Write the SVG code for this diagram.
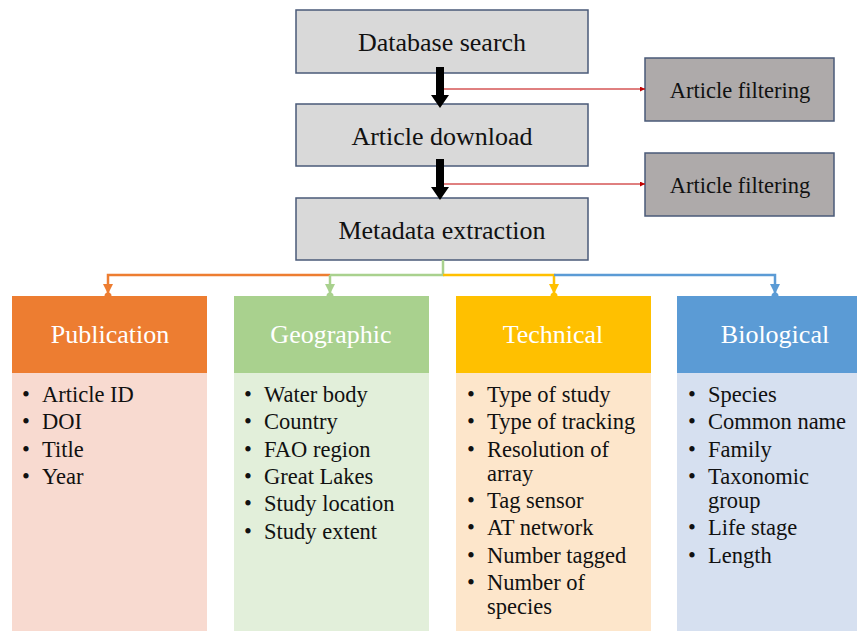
<svg xmlns="http://www.w3.org/2000/svg" width="857" height="631" viewBox="0 0 857 631">
<defs>
<style>
.step{fill:#D9D9D9;stroke:#4A5A78;stroke-width:1.5}
.filt{fill:#AEAAAA;stroke:#4A5A78;stroke-width:1.5}
.t{font-family:"Liberation Serif","Times New Roman",serif;fill:#111}
.big{font-size:26px;text-anchor:middle}
.mid{font-size:22.5px;text-anchor:middle}
.hd{font-family:"Liberation Serif","Times New Roman",serif;font-size:26px;fill:#fff;text-anchor:middle}
.li{font-size:22.5px}
</style>
<marker id="ar" viewBox="0 0 10 10" refX="10" refY="5" markerWidth="5" markerHeight="5" orient="auto"><path d="M0,0L10,5L0,10z" fill="#C00000"/></marker>
<marker id="ao" viewBox="0 0 10 10" refX="10" refY="5" markerWidth="4" markerHeight="4" orient="auto"><path d="M0,0L10,5L0,10z" fill="#ED7D31"/></marker>
<marker id="ag" viewBox="0 0 10 10" refX="10" refY="5" markerWidth="4" markerHeight="4" orient="auto"><path d="M0,0L10,5L0,10z" fill="#A9D18E"/></marker>
<marker id="ay" viewBox="0 0 10 10" refX="10" refY="5" markerWidth="4" markerHeight="4" orient="auto"><path d="M0,0L10,5L0,10z" fill="#FFC000"/></marker>
<marker id="ab" viewBox="0 0 10 10" refX="10" refY="5" markerWidth="4" markerHeight="4" orient="auto"><path d="M0,0L10,5L0,10z" fill="#5B9BD5"/></marker>
</defs>
<rect width="857" height="631" fill="#fff"/>

<g id="nodes-top">
<g id="db"><rect class="step" x="296" y="10" width="292" height="63"/><text class="t big" x="442" y="51">Database search</text></g>
<g id="dl"><rect class="step" x="296" y="104" width="292" height="62"/><text class="t big" x="442" y="145">Article download</text></g>
<g id="meta"><rect class="step" x="296" y="198" width="292" height="62"/><text class="t big" x="442" y="239">Metadata extraction</text></g>
<g id="f1"><rect class="filt" x="645" y="58" width="189" height="63"/><text class="t mid" x="740" y="98">Article filtering</text></g>
<g id="f2"><rect class="filt" x="645" y="153" width="189" height="63"/><text class="t mid" x="740" y="193">Article filtering</text></g>
</g>

<g id="connectors">
<path d="M436,67H444V95H449L440,108L431,95H436Z" fill="#000"/>
<path d="M436,159H444V187H449L440,200L431,187H436Z" fill="#000"/>
<line x1="444" y1="89" x2="645" y2="89" stroke="#C00000" stroke-width="1" marker-end="url(#ar)"/>
<line x1="444" y1="184" x2="645" y2="184" stroke="#C00000" stroke-width="1" marker-end="url(#ar)"/>
<g fill="none" stroke-width="2.5">
<path d="M443,260V275H330" stroke="#A9D18E"/>
<path d="M330,275H108V294" stroke="#ED7D31" marker-end="url(#ao)"/>
<path d="M330,275V294" stroke="#A9D18E" marker-end="url(#ag)"/>
<path d="M443,275H554V294" stroke="#FFC000" marker-end="url(#ay)"/>
<path d="M554,275H775V294" stroke="#5B9BD5" marker-end="url(#ab)"/>
</g>
<circle cx="108" cy="296" r="3.5" fill="#ED7D31"/>
<circle cx="330" cy="296" r="3.5" fill="#A9D18E"/>
<circle cx="554" cy="296" r="3.5" fill="#FFC000"/>
<circle cx="775" cy="296" r="3.5" fill="#5B9BD5"/>
</g>

<g id="publication">
<rect x="12" y="373" width="195" height="258" fill="#F8DAD0"/>
<rect x="12" y="296" width="195" height="77" fill="#ED7D31"/>
<text class="hd" x="110" y="343">Publication</text>
<text class="t li"><tspan x="22" y="402">•</tspan><tspan x="42" y="402">Article ID</tspan><tspan x="22" y="429">•</tspan><tspan x="42" y="429">DOI</tspan><tspan x="22" y="457">•</tspan><tspan x="42" y="457">Title</tspan><tspan x="22" y="484">•</tspan><tspan x="42" y="484">Year</tspan></text>
</g>

<g id="geographic">
<rect x="234" y="373" width="195" height="258" fill="#E2EFDA"/>
<rect x="234" y="296" width="195" height="77" fill="#A9D18E"/>
<text class="hd" x="331" y="343">Geographic</text>
<text class="t li"><tspan x="244" y="402">•</tspan><tspan x="264" y="402">Water body</tspan><tspan x="244" y="429">•</tspan><tspan x="264" y="429">Country</tspan><tspan x="244" y="457">•</tspan><tspan x="264" y="457">FAO region</tspan><tspan x="244" y="484">•</tspan><tspan x="264" y="484">Great Lakes</tspan><tspan x="244" y="511">•</tspan><tspan x="264" y="511">Study location</tspan><tspan x="244" y="539">•</tspan><tspan x="264" y="539">Study extent</tspan></text>
</g>

<g id="technical">
<rect x="456" y="373" width="195" height="258" fill="#FDE6CB"/>
<rect x="456" y="296" width="195" height="77" fill="#FFC000"/>
<text class="hd" x="553" y="343">Technical</text>
<text class="t li"><tspan x="467" y="402">•</tspan><tspan x="487" y="402">Type of study</tspan><tspan x="467" y="429">•</tspan><tspan x="487" y="429">Type of tracking</tspan><tspan x="467" y="457">•</tspan><tspan x="487" y="457">Resolution of</tspan><tspan x="487" y="481">array</tspan><tspan x="467" y="508">•</tspan><tspan x="487" y="508">Tag sensor</tspan><tspan x="467" y="535">•</tspan><tspan x="487" y="535">AT network</tspan><tspan x="467" y="563">•</tspan><tspan x="487" y="563">Number tagged</tspan><tspan x="467" y="590">•</tspan><tspan x="487" y="590">Number of</tspan><tspan x="487" y="614">species</tspan></text>
</g>

<g id="biological">
<rect x="677" y="373" width="180" height="258" fill="#D6E0F0"/>
<rect x="677" y="296" width="180" height="77" fill="#5B9BD5"/>
<text class="hd" x="775" y="343">Biological</text>
<text class="t li"><tspan x="688" y="402">•</tspan><tspan x="708" y="402">Species</tspan><tspan x="688" y="429">•</tspan><tspan x="708" y="429">Common name</tspan><tspan x="688" y="457">•</tspan><tspan x="708" y="457">Family</tspan><tspan x="688" y="484">•</tspan><tspan x="708" y="484">Taxonomic</tspan><tspan x="708" y="508">group</tspan><tspan x="688" y="535">•</tspan><tspan x="708" y="535">Life stage</tspan><tspan x="688" y="563">•</tspan><tspan x="708" y="563">Length</tspan></text>
</g>
</svg>
